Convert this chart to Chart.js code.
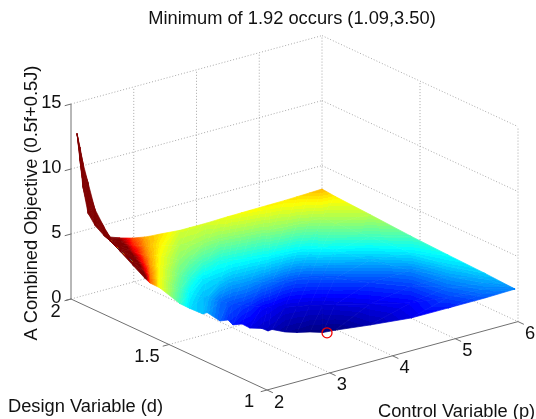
<!DOCTYPE html>
<html><head><meta charset="utf-8">
<style>html,body{margin:0;padding:0;background:#fff}#w{width:536px;height:419px}</style>
<script src="https://cdn.jsdelivr.net/npm/chart.js@4"></script>
</head><body><div id="w"><canvas id="c" width="536" height="419"></canvas></div>
<script>
const titleText = 'Minimum of 1.92 occurs (1.09,3.50)';
const dLabel = 'Design Variable (d)';
const pLabel = 'Control Variable (p)';
const zLabel = 'A Combined Objective (0.5f+0.5J)';
const dTicks = [1, 1.5, 2];
const dTickText = ['1', '1.5', '2'];
const pTicks = [2, 3, 4, 5, 6];
const zTicks = [0, 5, 10, 15];
const minD = 1.11, minP = 3.30, minZ = 1.92;
const colourLow = 1.92, colourHigh = 3.77;

// surface mesh: each column runs from its lower boundary point to its upper edge point.
// pLow/dLow is the jagged outline; pBase/dBase the smooth line that the inner rows hang from.
const rowFrac = [0, 0.2, 0.4, 0.6, 0.8, 1];
const pLow = [2.096,2.10,2.10,2.10,2.10,2.10,2.10,2.10,2.10,2.10,2.19,2.275,2.229,2.27,2.298,2.382,2.365,2.49,2.444,2.57,2.572,2.698,2.71,2.786,2.88,2.993,3.141,3.262,3.43,3.871,4.407,4.97,5.526,6];
const dLow = [2,1.986,1.971,1.945,1.91,1.864,1.833,1.782,1.716,1.655,1.658,1.634,1.517,1.48,1.422,1.428,1.357,1.356,1.316,1.31,1.27,1.249,1.222,1.226,1.19,1.165,1.146,1.119,1.111,1.074,1.036,1.028,1.017,1.015];
const pBase = [2.096,2.10,2.10,2.10,2.10,2.10,2.10,2.10,2.10,2.10,2.19,2.275,2.229,2.27,2.298,2.318,2.388,2.436,2.467,2.514,2.572,2.666,2.71,2.754,2.88,2.993,3.141,3.262,3.43,3.871,4.407,4.97,5.526,6];
const dBase = [2,1.986,1.971,1.945,1.91,1.864,1.833,1.782,1.716,1.655,1.658,1.634,1.517,1.48,1.422,1.408,1.364,1.339,1.323,1.292,1.27,1.239,1.222,1.216,1.19,1.165,1.146,1.119,1.111,1.074,1.036,1.028,1.017,1.015];
const pTop = [2.096,2.143,2.191,2.271,2.382,2.526,2.622,2.781,2.988,3.18,3.259,3.418,3.737,3.896,4.104,4.167,4.375,4.502,4.582,4.725,4.853,5.044,5.139,5.203,5.41,5.602,5.809,6,6,6,6,6,6,6];
const dTop = [2,2,2,2,2,2,2,2,2,2,2,2,2,2,2,2,2,2,2,2,2,2,2,2,2,2,2,2,1.934,1.755,1.546,1.357,1.168,1.015];
const zValues = [
[12.6,12.6,12.6,12.6,12.6,12.6],
[10.6,10.78,10.96,11.14,11.32,11.5],
[8.67,8.98,9.28,9.59,9.89,10.2],
[6.85,7.2,7.55,7.9,8.25,8.6],
[6.17,6.22,6.26,6.31,6.35,6.4],
[5.7,5.53,5.36,5.19,5.02,4.85],
[5.6,5.15,4.75,4.45,4.18,3.95],
[5.07,4.6,4.25,4,3.82,3.67],
[4.45,4.05,3.82,3.62,3.48,3.39],
[3.88,3.62,3.45,3.33,3.27,3.22],
[3.38,3.32,3.26,3.22,3.19,3.18],
[3.05,3.05,3.05,3.06,3.09,3.13],
[2.72,2.76,2.81,2.87,2.93,3.0],
[2.56,2.61,2.71,2.82,2.92,3.0],
[2.5,2.5,2.58,2.74,2.89,3.0],
[2.46,2.49,2.57,2.73,2.88,3.0],
[2.33,2.36,2.53,2.67,2.86,3.03],
[2.25,2.32,2.49,2.66,2.86,3.05],
[2.21,2.3,2.47,2.65,2.86,3.05],
[2.16,2.27,2.45,2.64,2.86,3.06],
[2.12,2.24,2.43,2.63,2.86,3.07],
[2.07,2.17,2.39,2.62,2.86,3.08],
[2.05,2.15,2.37,2.62,2.87,3.09],
[2.04,2.14,2.36,2.61,2.87,3.09],
[1.98,2.1,2.32,2.6,2.88,3.1],
[1.96,2.09,2.3,2.59,2.88,3.13],
[1.94,2.09,2.31,2.61,2.9,3.16],
[1.93,2.09,2.32,2.64,2.92,3.2],
[1.94,2.1,2.31,2.6,2.88,3.1],
[2.02,2.12,2.27,2.49,2.73,2.95],
[2.12,2.16,2.27,2.4,2.58,2.75],
[2.2,2.28,2.36,2.44,2.54,2.63],
[2.32,2.36,2.4,2.44,2.48,2.53],
[2.4,2.4,2.4,2.4,2.4,2.4]
];

// fixed orthographic view of (p,d,z) onto the page plane
const view = {x0:267, y0:390, px:62.75, py:17.1, dx:196, dy:91, zy:13};
const proj = (d,p,z) => ({
  x: view.x0 + view.px*(p-2) - view.dx*(d-1),
  y: view.y0 - view.py*(p-2) - view.dy*(d-1) - view.zy*z
});

const AREA = {left:48, top:32, right:536, bottom:419};

function jet(t){
  const c = v => Math.round(255*Math.max(0,Math.min(1,v)));
  return 'rgb('+c(Math.min(4*t-1.5,-4*t+4.5))+','+c(Math.min(4*t-0.5,-4*t+3.5))+','+c(Math.min(4*t+0.5,-4*t+2.5))+')';
}
const BANDS = 64;
function triPaint(chart, tri){
  const sx = chart.scales.x, sy = chart.scales.y;
  const P = tri.map(q => ({x:sx.getPixelForValue(q.x), y:sy.getPixelForValue(q.y), z:q.z}));
  const u = {x:P[1].x-P[0].x, y:P[1].y-P[0].y, z:P[1].z-P[0].z};
  const v = {x:P[2].x-P[0].x, y:P[2].y-P[0].y, z:P[2].z-P[0].z};
  const det = u.x*v.y - u.y*v.x;
  const ta = (P[0].z+P[1].z+P[2].z)/3;
  const flat = t => jet(Math.floor(Math.max(0,Math.min(0.9999,t))*BANDS)/(BANDS-1));
  const a = (u.z*v.y - v.z*u.y)/det, b = (u.x*v.z - v.x*u.z)/det;
  const n = a*a+b*b;
  if (!isFinite(n) || n < 1e-9) return flat((ta-colourLow)/(colourHigh-colourLow));
  const ax = P[0].x + (colourLow-P[0].z)*a/n, ay = P[0].y + (colourLow-P[0].z)*b/n;
  const bx = P[0].x + (colourHigh-P[0].z)*a/n, by = P[0].y + (colourHigh-P[0].z)*b/n;
  const g = chart.ctx.createLinearGradient(ax,ay,bx,by);
  for (let i=0;i<BANDS;i++){
    const col = jet(i/(BANDS-1));
    g.addColorStop(i/BANDS,col);
    g.addColorStop((i+1)/BANDS,col);
  }
  return g;
}

const datasets = [];
// marker on top
const mk = proj(minD,minP,minZ);
datasets.push({data:[mk],showLine:false,pointRadius:5,pointBorderWidth:1.3,pointBorderColor:'#f00000',pointBackgroundColor:'rgba(0,0,0,0)',clip:false});

// surface
function vert(i,j){
  const f = rowFrac[j];
  const pL = j===0 ? pLow[i] : pBase[i], dL = j===0 ? dLow[i] : dBase[i];
  const d = dL+(dTop[i]-dL)*f, p = pL+(pTop[i]-pL)*f;
  const q = proj(d,p,zValues[i][j]);
  return {x:q.x,y:q.y,z:zValues[i][j]};
}
function addTri(t){
  const area = Math.abs((t[1].x-t[0].x)*(t[2].y-t[0].y)-(t[2].x-t[0].x)*(t[1].y-t[0].y));
  if (area < 0.01) return;
  const paint = c => triPaint(c.chart,t);
  datasets.push({data:[t[0],t[1],t[2],t[0]],fill:'shape',backgroundColor:paint,borderColor:paint,borderWidth:0.7,pointRadius:0,tension:0,clip:false});
}
for (let i=0;i<pLow.length-1;i++){
  for (let j=0;j<rowFrac.length-1;j++){
    const A=vert(i,j),B=vert(i+1,j),C=vert(i+1,j+1),D=vert(i,j+1);
    addTri([A,B,C]); addTri([A,C,D]);
  }
}
// axes, ticks and grid
const segStyle = (a,b,col,dash) => ({data:[a,b],borderColor:col,borderWidth:1,borderDash:dash||[],pointRadius:0,fill:false,tension:0,clip:false});
const AX='#707070', GR='#a8a8a8', DOT=[1,2];
const zMax = zTicks[zTicks.length-1];
const pMin=pTicks[0], pMax=pTicks[pTicks.length-1], dMin=dTicks[0], dMax=dTicks[dTicks.length-1];
datasets.push(segStyle(proj(dMax,pMin,0),proj(dMax,pMin,zMax),AX));
datasets.push(segStyle(proj(dMax,pMin,0),proj(dMin,pMin,0),AX));
datasets.push(segStyle(proj(dMin,pMin,0),proj(dMin,pMax,0),AX));
zTicks.forEach(z=>datasets.push(segStyle(proj(dMax,pMin,z),proj(dMax,pMin-0.1,z),AX)));
dTicks.forEach(d=>datasets.push(segStyle(proj(d,pMin,0),proj(d,pMin-0.1,0),AX)));
pTicks.forEach(p=>datasets.push(segStyle(proj(dMin,p,0),proj(dMin-0.03,p,0),AX)));
zTicks.forEach(z=>{
  datasets.push(segStyle(proj(dMax,pMin,z),proj(dMax,pMax,z),GR,DOT));
  datasets.push(segStyle(proj(dMax,pMax,z),proj(dMin,pMax,z),GR,DOT));
});
pTicks.slice(1).forEach(p=>datasets.push(segStyle(proj(dMax,p,0),proj(dMax,p,zMax),GR,DOT)));
dTicks.slice(0,2).forEach(d=>datasets.push(segStyle(proj(d,pMax,0),proj(d,pMax,zMax),GR,DOT)));
pTicks.slice(1,4).forEach(p=>datasets.push(segStyle(proj(dMin,p,0),proj(dMax,p,0),GR,DOT)));
datasets.push(segStyle(proj(1.5,pMin,0),proj(1.5,pMax,0),GR,DOT));

const FONT='18.3px "Liberation Sans", Arial, sans-serif';
const dLabelShift=[[-18,12],[-22,12],[-15.5,13]];
const textPlugin={id:'labels3d',afterDraw(chart){
  const c=chart.ctx,sx=chart.scales.x,sy=chart.scales.y;
  const px=q=>({x:sx.getPixelForValue(q.x),y:sy.getPixelForValue(q.y)});
  c.save();c.font=FONT;c.fillStyle='#111';c.textBaseline='middle';c.textAlign='center';
  zTicks.forEach(z=>{const q=px(proj(dMax,pMin,z));c.textAlign='right';c.fillText(String(z),q.x-9.5,q.y-1.5);});
  c.textAlign='center';
  dTicks.forEach((d,i)=>{const q=px(proj(d,pMin,0));c.fillText(dTickText[i],q.x+dLabelShift[i][0],q.y+dLabelShift[i][1]);});
  pTicks.forEach(p=>{const q=px(proj(dMin,p,0));c.fillText(String(p),q.x+12,q.y+12.5);});
  c.textAlign='left';
  c.fillText(dLabel,8,407);
  c.fillText(pLabel,378,412);
  c.translate(32,203);c.rotate(-Math.PI/2);c.textAlign='center';
  c.fillText(zLabel,0,0);
  c.restore();
}};

new Chart(document.getElementById('c'),{
  type:'line',
  data:{datasets},
  plugins:[textPlugin],
  options:{
    responsive:false,animation:false,events:[],
    layout:{autoPadding:false,padding:{left:AREA.left,top:0,right:0,bottom:0}},
    scales:{
      x:{type:'linear',display:false,min:AREA.left,max:AREA.right},
      y:{type:'linear',display:false,reverse:true,min:AREA.top,max:AREA.bottom}
    },
    plugins:{
      legend:{display:false},tooltip:{enabled:false},
      title:{display:true,text:titleText,fullSize:false,color:'#111',
        font:{family:'"Liberation Sans", Arial, sans-serif',size:18.3,weight:'normal',lineHeight:'20px'},
        padding:{top:9,bottom:3}}
    }
  }
});
</script></body></html>
